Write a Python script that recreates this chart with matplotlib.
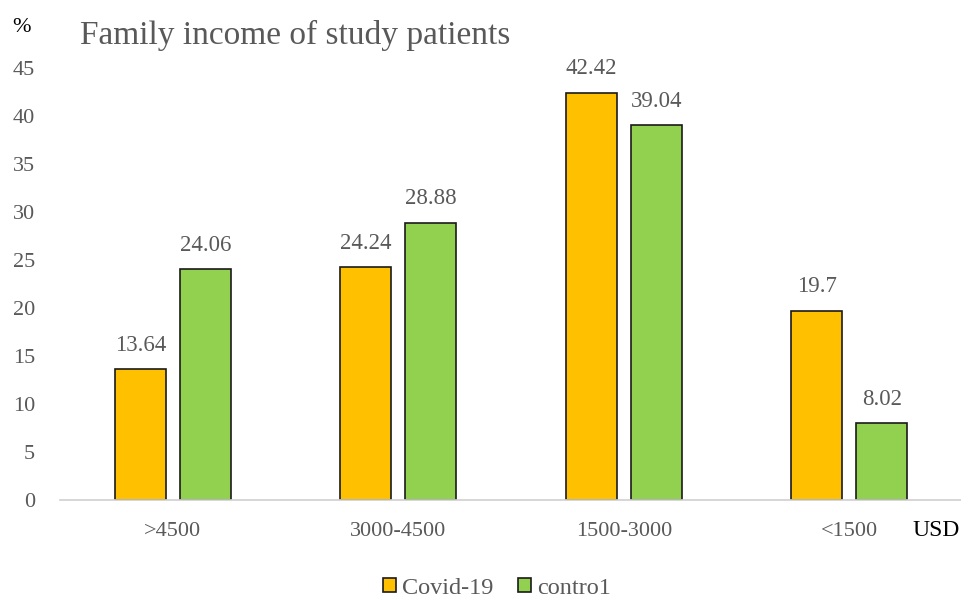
import matplotlib.pyplot as plt
import numpy as np

CATEGORIES = [">4500", "3000-4500", "1500-3000", "<1500"]
COVID = [13.64, 24.24, 42.42, 19.7]
CONTROL = [24.06, 28.88, 39.04, 8.02]

plt.rcParams["font.family"] = ["Liberation Serif", "DejaVu Serif"]

GRAY = "#595959"

fig = plt.figure(figsize=(9.62, 5.99), dpi=100)
ax = fig.add_axes([60 / 962, (599 - 500) / 599, 902 / 962, (500 - 68) / 599])

x = np.arange(len(CATEGORIES))
w = 0.226
off = 0.144
b1 = ax.bar(x - off, COVID, w, color="#FFC000", edgecolor="#1a1a1a", linewidth=1.2, label="Covid-19")
b2 = ax.bar(x + off, CONTROL, w, color="#92D050", edgecolor="#1a1a1a", linewidth=1.2, label="contro1")

for bars, vals in ((b1, COVID), (b2, CONTROL)):
    for rect, v in zip(bars, vals):
        ax.text(rect.get_x() + rect.get_width() / 2, v + 1.4, f"{v:g}",
                ha="center", va="bottom", fontsize=16.5, color=GRAY)

ax.set_xlim(-0.5, 3.5)
ax.set_ylim(0, 45)
ax.set_yticks(range(0, 46, 5))
ax.set_xticks(x)
ax.set_xticklabels(CATEGORIES)
ax.tick_params(axis="both", length=0, labelsize=16, colors=GRAY)
ax.tick_params(axis="x", pad=16)
ax.tick_params(axis="y", pad=18)

for s in ("top", "right", "left"):
    ax.spines[s].set_visible(False)
ax.spines["bottom"].set_color("#d0d0d0")
ax.spines["bottom"].set_linewidth(1.2)

fig.text(12 / 962, 1 - 28 / 599, "%", fontsize=16, color="black", va="center", ha="left")
fig.text(80 / 962, 1 - 35 / 599, "Family income of study patients", fontsize=24,
         color=GRAY, va="center", ha="left")
fig.text(936 / 962, 1 - 531 / 599, "USD", fontsize=17, color="black", va="center", ha="center")

fig.legend(handles=[b1, b2], loc="center", bbox_to_anchor=(497 / 962, 1 - 588 / 599),
           ncol=2, frameon=False, fontsize=17.5, handlelength=0.55, handleheight=0.55,
           handletextpad=0.25, columnspacing=1.0, labelcolor=GRAY)

fig.savefig("out.png", dpi=100)
